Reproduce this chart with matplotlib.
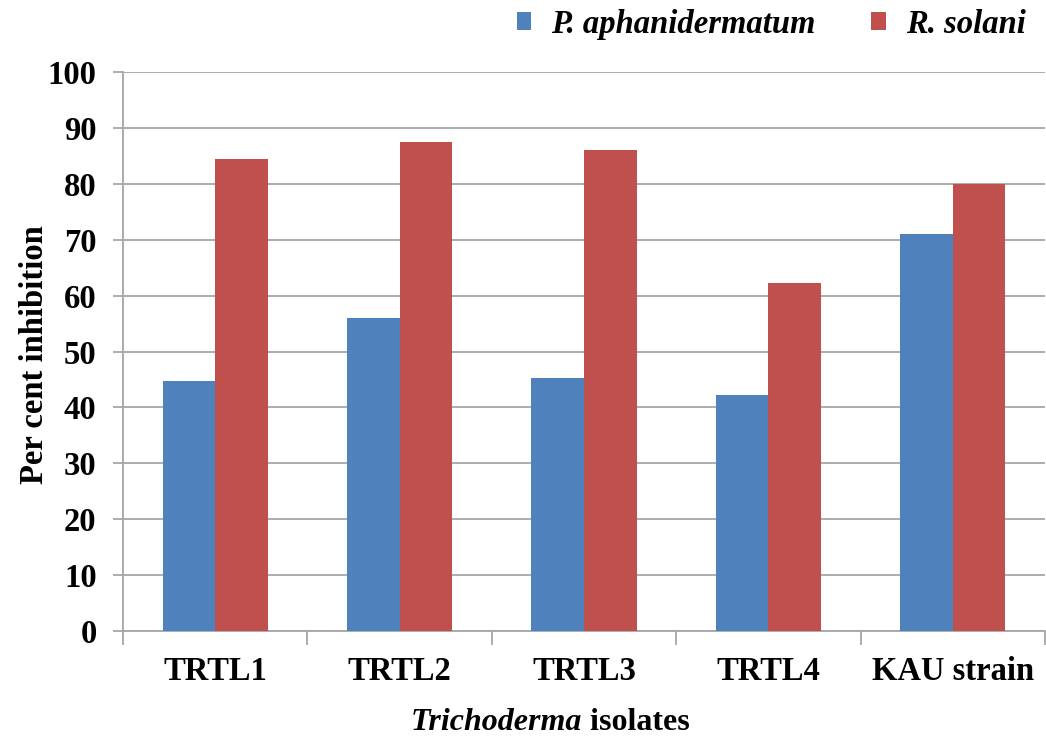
import matplotlib
matplotlib.use("Agg")
import matplotlib.pyplot as plt
import numpy as np
from matplotlib.patches import Patch

isolates = ["TRTL1", "TRTL2", "TRTL3", "TRTL4", "KAU strain"]
p_aphanidermatum = [44.8, 56.0, 45.2, 42.2, 71.1]
r_solani = [84.4, 87.4, 86.0, 62.2, 80.0]
y_ticks = [0, 10, 20, 30, 40, 50, 60, 70, 80, 90, 100]

plt.rcParams["font.family"] = ["Liberation Serif", "DejaVu Serif"]
plt.rcParams["font.weight"] = "bold"

BLUE = "#4F81BD"
RED = "#C0504D"
GRID = "#A6A6A6"
FS = 23.5

fig = plt.figure(figsize=(10.46, 7.40), dpi=100)
ax = fig.add_axes([123 / 1046, 109 / 740, 922 / 1046, 559 / 740])

x = np.arange(len(isolates))
w = 0.285
ax.bar(x - w / 2, p_aphanidermatum, w, color=BLUE, zorder=3)
ax.bar(x + w / 2, r_solani, w, color=RED, zorder=3)

ax.set_xlim(-0.5, len(isolates) - 0.5)
ax.set_ylim(0, 100)
ax.set_yticks(y_ticks)
ax.set_yticklabels([str(t) for t in y_ticks], fontsize=FS, fontweight="bold")
ax.yaxis.grid(True, color=GRID, linewidth=1.3, zorder=0)
ax.set_axisbelow(True)

ax.set_xticks(x)
ax.set_xticklabels(isolates, fontsize=FS, fontweight="bold")
ax.set_xticks(np.arange(-0.5, len(isolates)), minor=True)
ax.tick_params(axis="x", which="major", length=0, pad=18)
ax.tick_params(axis="x", which="minor", length=10, width=1.3, color=GRID)
ax.tick_params(axis="y", length=7, width=1.3, color=GRID, pad=12, direction="out")

for side in ("top", "right"):
    ax.spines[side].set_visible(False)
for side in ("left", "bottom"):
    ax.spines[side].set_color(GRID)
    ax.spines[side].set_linewidth(1.3)

fig.text(35 / 1046, 1 - 355 / 740, "Per cent inhibition", rotation=90,
         ha="center", va="center", fontsize=FS, fontweight="bold")

# x-axis title: italic genus name followed by upright word, centred as one line
t1 = fig.text(0, 1 - 722 / 740, "Trichoderma", fontsize=23, fontweight="bold",
              style="italic", ha="left", va="center")
t2 = fig.text(0, 1 - 722 / 740, " isolates", fontsize=23, fontweight="bold",
              ha="left", va="center")
fig.canvas.draw()
r = fig.canvas.get_renderer()
w1 = t1.get_window_extent(r).width
w2 = t2.get_window_extent(r).width
cx = 550
start = cx - (w1 + w2) / 2
t1.set_x(start / 1046)
t2.set_x((start + w1) / 1046)

handles = [Patch(facecolor=BLUE, label="P. aphanidermatum"),
           Patch(facecolor=RED, label="R. solani")]
fig.legend(handles=handles, loc="upper right", bbox_to_anchor=(1055 / 1046, 1.028),
           ncol=2, frameon=False, prop={"size": FS, "weight": "bold", "style": "italic"},
           handlelength=0.45, handleheight=0.45, handletextpad=0.6, columnspacing=1.72)

fig.savefig("out.png", dpi=100)
